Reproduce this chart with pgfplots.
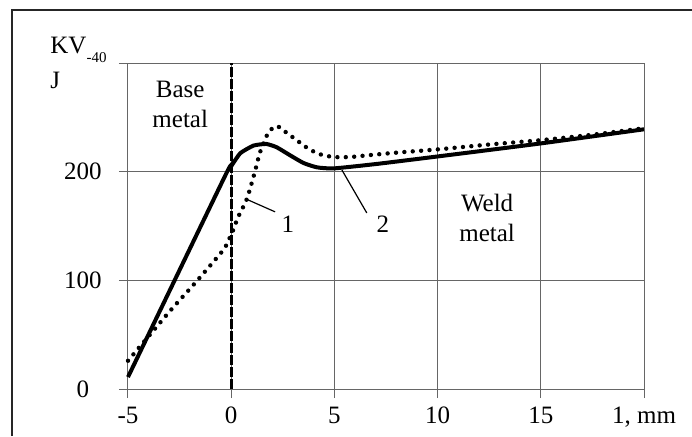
\documentclass[border=0pt]{standalone}
\usepackage{pgfplots}
\pgfplotsset{compat=1.18}
\usepackage{fontspec}
\setmainfont{Liberation Serif}
\begin{document}
\fontsize{12.5}{15}\selectfont
\begin{tikzpicture}
\useasboundingbox (0,0) rectangle (346pt,218pt);
\draw[black!85, line width=0.6pt] (6pt,0) -- (6pt,213pt) -- (346pt,213pt);
\begin{axis}[
  at={(64pt,23.5pt)}, anchor=south west,
  width=258pt, height=163pt, scale only axis,
  xmin=-5, xmax=20, ymin=0, ymax=300,
  xtick={-5,0,5,10,15,20}, xticklabels={-5,0,5,10,15,{1, mm}},
  ytick={0,100,200,300}, yticklabels={0,100,200,{}},
  grid=major, grid style={black!60, line width=0.5pt},
  axis line style={black!60, line width=0.5pt},
  tick style={black!60, line width=0.5pt},
  tick align=outside, major tick length=4.5pt, tick pos=left,
  /pgf/number format/assume math mode=true,
  ticklabel style={font=\fontsize{12.5}{15}\selectfont},
  yticklabel style={anchor=center, xshift=-18pt},
  clip=false,
]
\addplot[black, line width=1.5pt, dash pattern=on 5pt off 1pt] coordinates {(0,0) (0,300)};
% curve 1 (dotted)
\addplot[black, line width=2.2pt, line cap=round, dash pattern=on 0pt off 4.2pt, smooth, tension=0.4] coordinates {
(-5,26) (-3,71) (-1.85,95.4) (-1,114) (-0.34,129) (-0.1,138) (0.09,146) (0.33,158) (0.76,175) (1.15,200) (1.4,218) (1.8,236) (2.2,242) (2.6,237) (3.1,230) (3.75,221) (4.3,216) (4.96,213.5) (5.77,213.5) (6.57,215) (8,217.5) (10,220.5) (12.5,225) (15,229) (17.5,234) (20,240)};
% curve 2 (solid)
\addplot[black, line width=2pt, smooth, tension=0.3] coordinates {
(-5,11) (-0.3,196) (0,205) (0.44,217) (1.08,224) (1.7,225.5) (2.2,222.5) (2.86,215) (3.5,208) (4.15,204) (4.96,203) (7,207) (10,214) (15,226) (20,239)};
\draw[black, line width=0.6pt] (axis cs:0.76,174.5) -- (axis cs:2.13,163);
\node at (axis cs:2.75,152) {1};
\draw[black, line width=0.6pt] (axis cs:5.36,201.7) -- (axis cs:6.57,162);
\node at (axis cs:7.35,152) {2};
\node[align=center] at (axis cs:-2.47,262) {Base\\metal};
\node[align=center] at (axis cs:12.4,157) {Weld\\metal};
\end{axis}
\node[anchor=base west, inner sep=0] at (25pt,191.3pt) {KV\raisebox{-4.5pt}{\fontsize{7.5}{9}\selectfont -40}};
\node[anchor=base west, inner sep=0] at (25pt,174pt) {J};
\end{tikzpicture}
\end{document}
